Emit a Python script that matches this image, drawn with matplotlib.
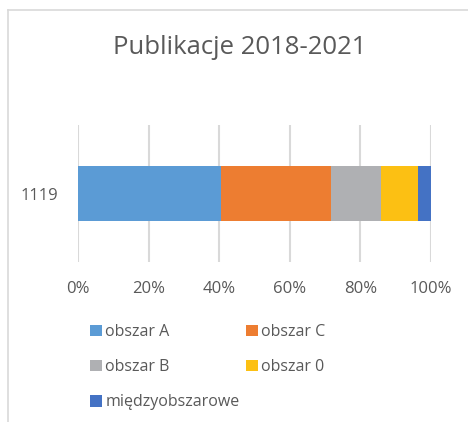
import matplotlib
matplotlib.use('Agg')
import matplotlib.pyplot as plt
from matplotlib.lines import Line2D

category = '1119'
series = ['obszar A', 'obszar C', 'obszar B', 'obszar 0', 'międzyobszarowe']
counts = [453, 350, 158, 117, 41]
colors = ['#5B9BD5', '#ED7D31', '#AFB0B3', '#FCC013', '#4472C4']
ticks = [0, 20, 40, 60, 80, 100]

plt.rcParams['font.family'] = ['Open Sans', 'DejaVu Sans']
text_color = '#595959'

total = sum(counts)
shares = [c / total * 100 for c in counts]

fig = plt.figure(figsize=(4.68, 4.22), dpi=100)
ax = fig.add_axes([78 / 468, 1 - 262 / 422, 353 / 468, 137 / 422])

left = 0
bars = []
for name, val, col in zip(series, shares, colors):
    b = ax.barh([0], [val], left=left, height=0.4, color=col, label=name, zorder=3)
    bars.append(b)
    left += val

ax.set_xlim(0, 100)
ax.set_ylim(-0.5, 0.5)
ax.set_xticks(ticks)
ax.set_xticklabels([f'{t}%' for t in ticks])
ax.set_yticks([0])
ax.set_yticklabels([category])
ax.grid(axis='x', color='#d9d9d9', linewidth=1.5, zorder=0)
for s in ax.spines.values():
    s.set_visible(False)
ax.tick_params(axis='both', length=0, labelsize=12, labelcolor=text_color)
ax.tick_params(axis='x', pad=14)
ax.tick_params(axis='y', pad=14)

fig.text(240 / 468, 1 - 48 / 422, 'Publikacje 2018-2021', ha='center', va='center',
         fontsize=18.5, color=text_color)

# legend: column-wise order so rows read A/C, B/0, międzyobszarowe
order = [0, 2, 4, 1, 3]
leg = fig.legend([bars[i] for i in order], [series[i] for i in order],
                 loc='upper left', bbox_to_anchor=(82 / 468, 1 - 316 / 422), ncol=2,
                 frameon=False, fontsize=11.5, labelcolor=text_color,
                 handlelength=0.75, handleheight=0.75, handletextpad=0.2,
                 columnspacing=0.4, labelspacing=1.2, borderpad=0)

# chart border (clipped on right and bottom)
fig.add_artist(Line2D([8 / 468, 1.0], [1 - 10 / 422] * 2, color='#d9d9d9', linewidth=1.2))
fig.add_artist(Line2D([8 / 468] * 2, [0.0, 1 - 10 / 422], color='#d9d9d9', linewidth=1.2))

fig.savefig('out.png', dpi=100, facecolor='white')
